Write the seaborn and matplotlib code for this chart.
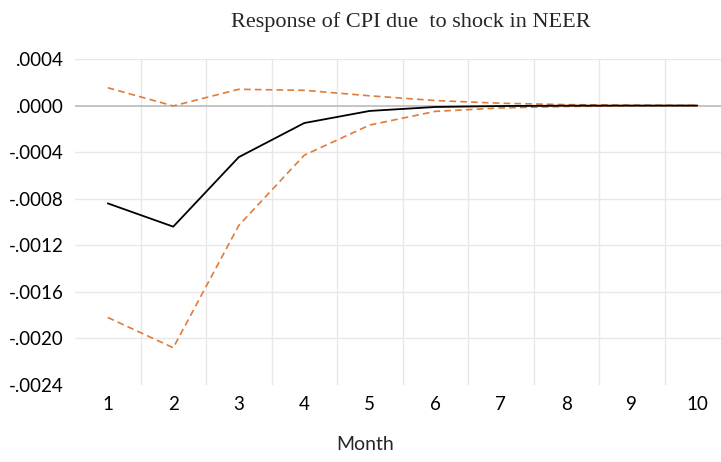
import matplotlib
matplotlib.use("Agg")
import matplotlib.pyplot as plt
import seaborn as sns
import pandas as pd
import numpy as np

# impulse response values
months = [1, 2, 3, 4, 5, 6, 7, 8, 9, 10]
response = [-0.00084, -0.00104, -0.000443, -0.00015, -0.000046, -0.000012, -0.000004, -0.000001, 0.0, 0.0]
upper = [0.000153, -0.000003, 0.00014, 0.000131, 0.000084, 0.000043, 0.00002, 0.000008, 0.000003, 0.000001]
lower = [-0.00182, -0.00208, -0.00103, -0.000426, -0.000167, -0.00005, -0.00002, -0.000008, -0.000003, -0.000001]
y_ticks = [-0.0024, -0.0020, -0.0016, -0.0012, -0.0008, -0.0004, 0.0, 0.0004]

df = pd.DataFrame({"Month": months, "response": response, "upper": upper, "lower": lower})

sns.set_style("white")
plt.rcParams['font.family'] = ['Lato', 'DejaVu Sans']

fig = plt.figure(figsize=(7.21, 4.62), dpi=100)
ax = fig.add_axes([75 / 721, 1 - 385 / 462, 1 - 75 / 721, (385 - 59) / 462])

orange = "#E07B39"
sns.lineplot(data=df, x="Month", y="upper", ax=ax, color=orange, linewidth=1.2, linestyle=(0, (4, 2.5)))
sns.lineplot(data=df, x="Month", y="lower", ax=ax, color=orange, linewidth=1.2, linestyle=(0, (4, 2.5)))
sns.lineplot(data=df, x="Month", y="response", ax=ax, color="black", linewidth=1.3)

ax.set_xlim(0.5, 0.5 + (721 - 75) / 65.5)
ax.set_ylim(-0.0024, 0.0004)

# grid lines like the excel chart
for yv in y_ticks:
    if yv == 0.0:
        ax.axhline(yv, color="#BFBFBF", linewidth=1.3, zorder=1)
    elif yv > -0.0024:
        ax.axhline(yv, color="#E8E8E8", linewidth=1.0, zorder=0)
for xv in np.arange(1.5, 10.5, 1.0):
    ax.axvline(xv, color="#E8E8E8", linewidth=1.0, zorder=0)

ax.set_xticks(months)
ax.set_xticklabels([str(m) for m in months])
ax.set_yticks(y_ticks)
ax.set_yticklabels([("-" if v < 0 else "") + ("%.4f" % abs(v))[1:] for v in y_ticks])
ax.tick_params(axis="both", length=0, labelsize=13.5, colors="black")
ax.tick_params(axis="x", pad=8)
ax.tick_params(axis="y", pad=8)

for s in ax.spines.values():
    s.set_visible(False)

ax.set_ylabel("")
ax.set_xlabel("Month", fontsize=14)
ax.xaxis.set_label_coords((365 - 75) / (721 - 75), -0.155)

fig.text(411 / 721, 1 - 22 / 462, "Response of CPI due  to shock in NEER",
         ha="center", va="center", fontsize=16, family=["Liberation Serif", "DejaVu Serif"])

fig.savefig("out.png", dpi=100)
